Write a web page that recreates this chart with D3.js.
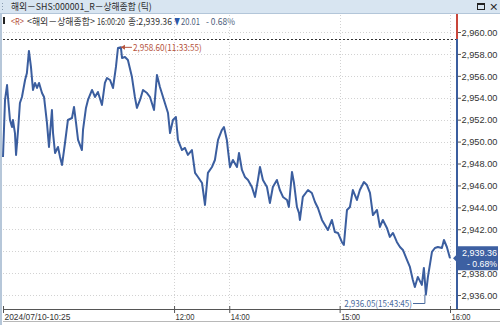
<!DOCTYPE html>
<meta charset="utf-8">
<style>
body { margin: 0; background: #fff; }
svg { display: block; font-family: "Noto Sans CJK KR", "Liberation Sans", sans-serif; }
.grid line { stroke: #d2d2d2; stroke-dasharray: 1,2; shape-rendering: crispEdges; }
.line { fill: none; stroke: #3b5e9f; stroke-width: 2px; stroke-linejoin: round; }
</style>
<body>
<svg width="500" height="325"></svg>
<script src="https://cdn.jsdelivr.net/npm/d3@7"></script>
<script>
// trading minutes since 10:30 (lunch break removed), 10:25 auction = -3
var times = [-3,-1.9,-0.8,-0.3,0.8,1.9,2.4,3.5,4.1,5.2,
  6.2,7.3,9.0,10.0,11.1,12.2,13.3,14.4,15.5,16.6,
  18.2,19.3,20.9,22.0,23.6,24.2,25.3,26.9,28.0,29.1,
  30.7,32.3,34.5,35.6,36.7,37.8,39.9,40.5,42.1,43.2,
  45.4,47.0,48.6,50.8,52.4,53.5,55.2,56.8,58.4,59.5,
  61.1,61.7,63.3,64.9,67.1,68.7,69.8,71.5,73.1,75.3,
  76.9,79.1,80.7,82.3,84.0,85.0,86.7,87.8,89.4,91.0,
  92.1,94.3,95.9,97.5,99.7,101.4,103.0,105.2,106.8,108.4,
  110.6,112.2,113.9,116.0,117.1,118.7,119.3,120.4,122.0,124.2,
  125.3,126.9,128.5,130.2,132.3,134.0,135.6,136.7,138.3,140.5,
  142.1,143.7,145.9,147.5,149.2,151.4,152.4,154.1,155.2,156.8,
  157.9,158.4,160.0,162.8,164.9,166.6,168.2,170.4,172.0,173.6,
  175.8,177.4,179.1,181.2,182.3,184.0,185.6,187.2,189.4,191.0,
  193.2,194.8,196.5,198.1,200.3,201.9,203.5,205.7,207.3,209.0,
  211.1,212.8,214.4,216.6,218.2,219.8,220.9,222.5,224.7,225.8,
  226.9,228.0,230.2,231.8,233.4,235.6,236.7,238.3,240];

var prices = [2948.60,2953.80,2955.16,2954.07,2951.97,2951.33,2951.97,2950.78,2948.78,2951.06,
  2953.52,2954.07,2955.62,2956.26,2958.27,2956.81,2954.71,2955.35,2954.89,2955.35,
  2954.43,2954.07,2951.70,2949.51,2952.88,2950.78,2948.96,2949.51,2948.60,2947.87,
  2949.87,2951.97,2952.15,2953.16,2951.70,2950.15,2949.23,2951.06,2953.07,2953.80,
  2954.71,2954.07,2954.53,2953.34,2955.35,2955.80,2955.62,2954.89,2956.81,2958.54,
  2958.60,2957.63,2957.72,2957.45,2955.89,2954.07,2953.07,2953.80,2954.71,2954.43,
  2954.07,2952.88,2956.08,2954.98,2954.07,2953.52,2952.61,2950.78,2951.97,2952.24,
  2950.15,2949.23,2949.42,2948.78,2949.23,2947.14,2946.77,2946.22,2944.22,2947.14,
  2947.68,2948.32,2950.15,2951.06,2951.33,2950.15,2949.23,2947.68,2948.32,2947.68,
  2948.96,2947.41,2946.77,2946.50,2945.86,2944.95,2946.50,2947.68,2946.50,2945.86,
  2944.40,2945.86,2946.50,2945.58,2944.95,2944.67,2944.03,2947.23,2946.22,2944.03,
  2943.49,2942.85,2944.95,2945.58,2945.31,2944.49,2943.94,2942.85,2942.39,2941.93,
  2942.85,2941.75,2941.66,2940.84,2940.57,2943.76,2944.03,2945.58,2944.67,2945.58,
  2946.31,2946.04,2945.31,2943.30,2943.76,2942.21,2942.85,2942.12,2941.30,2941.66,
  2940.84,2940.38,2940.11,2939.20,2938.56,2937.37,2936.73,2937.65,2936.92,2938.47,
  2936.05,2937.65,2939.93,2940.29,2940.38,2940.29,2941.02,2940.38,2939.36];

var yTicks = [2936,2938,2940,2942,2944,2946,2948,2950,2952,2954,2956,2958,2960];
var xTickTimes = [-3, 90, 120, 180, 240];
var xTickLabels = ["2024/07/10-10:25", "12:00", "14:00", "15:00", "16:00"];
var prevClose = 2959.37;
var lastLabel = ["2,939.36", "- 0.68%"];
var highMark = {t: 61.1, v: 2958.60, label: "2,958.60(11:33:55)"};
var lowMark = {t: 226.9, v: 2936.05, label: "2,936.05(15:43:45)"};
var titleText = "해외－SHS:000001_R－상해종합 (틱)";
var infoParts = ["<R>", "<해외－상해종합>", "16:00:20", "종:2,939.36", "▼", "20.01", "- 0.68%"];

var data = times.map(function(t, i) { return {t: t, v: prices[i]}; });

// squeeze a text horizontally to a given width (keeps its anchor point)
function fit(sel, width) {
  sel.each(function(d, i) {
    var el = d3.select(this),
        w = typeof width === "function" ? width(d, i) : width,
        n = this.getComputedTextLength(),
        tx = +el.attr("x") || 0, ty = +el.attr("y") || 0;
    el.attr("x", 0).attr("y", 0)
      .attr("transform", "translate(" + tx + "," + ty + ") scale(" + (w / n) + ",1)");
  });
}

var svg = d3.select("svg");
var x = d3.scaleLinear().domain([-3, 240]).range([3, 450]),
    y = d3.scaleLinear().domain([2936, 2960]).range([295, 32]);
var axisX = 457, bottom = 309;

// title bar
svg.append("rect").attr("x", 0).attr("y", 0).attr("width", 500).attr("height", 13).attr("fill", "#d8e5f1");
svg.append("line").attr("x1", 0).attr("x2", 500).attr("y1", 13.5).attr("y2", 13.5).attr("stroke", "#b3c6d9");
[3, 6, 9].forEach(function(d) {
  svg.append("rect").attr("x", 2).attr("y", d).attr("width", 1).attr("height", 1).attr("fill", "#8a9cb0");
});
svg.append("text").attr("x", 11).attr("y", 10).attr("font-size", "9.5px").attr("fill", "#2a2a2a")
  .text(titleText).call(fit, 141);
svg.append("rect").attr("x", 477.5).attr("y", 3.5).attr("width", 7).attr("height", 6)
  .attr("fill", "none").attr("stroke", "#222");
svg.append("line").attr("x1", 477.5).attr("x2", 484.5).attr("y1", 4.5).attr("y2", 4.5).attr("stroke", "#222");
svg.append("text").attr("x", 489).attr("y", 10).attr("font-size", "9.5px").attr("font-weight", "bold")
  .attr("fill", "#222").text("×");

// left border
svg.append("line").attr("x1", 1).attr("x2", 1).attr("y1", 14).attr("y2", 325)
  .attr("stroke", "#b6c7d9").attr("stroke-width", 2);

// info line, one text per part
svg.append("rect").attr("x", 3).attr("y", 17).attr("width", 2).attr("height", 7).attr("fill", "#222");
var infoX = [11, 27, 97, 128, 174, 181, 206],
    infoW = [13, 68, 28, 44, 6, 19, 29],
    infoC = ["#b5503a", "#333", "#333", "#333", "#2d58a8", "#4d5d7a", "#4d5d7a"];
svg.selectAll(".info").data(infoParts).enter().append("text")
  .attr("class", "info")
  .attr("x", function(d, i) { return infoX[i]; }).attr("y", 24.5)
  .attr("font-size", "9.5px").attr("fill", function(d, i) { return infoC[i]; })
  .text(function(d) { return d; })
  .call(fit, function(d, i) { return infoW[i]; });

// grid
var grid = svg.append("g").attr("class", "grid");
grid.selectAll(".h").data(yTicks).enter().append("line")
  .attr("x1", 3).attr("x2", axisX - 1)
  .attr("y1", function(d) { return Math.round(y(d)) + 0.5; })
  .attr("y2", function(d) { return Math.round(y(d)) + 0.5; });
grid.selectAll(".v").data(xTickTimes.slice(1)).enter().append("line")
  .attr("x1", function(d) { return Math.round(x(d)) + 0.5; })
  .attr("x2", function(d) { return Math.round(x(d)) + 0.5; })
  .attr("y1", 15).attr("y2", bottom);

// previous close
svg.append("line").attr("x1", 3).attr("x2", axisX - 1)
  .attr("y1", Math.round(y(prevClose)) + 0.5).attr("y2", Math.round(y(prevClose)) + 0.5)
  .attr("stroke", "#333").attr("stroke-dasharray", "2,2");

// price line
var line = d3.line().x(function(d) { return x(d.t); }).y(function(d) { return y(d.v); });
svg.append("path").datum(data).attr("class", "line").attr("d", line);

// high annotation
var hx = x(highMark.t), hy = y(highMark.v);
svg.append("line").attr("x1", hx).attr("x2", hx + 11).attr("y1", hy).attr("y2", hy).attr("stroke", "#b5533c");
svg.append("path").attr("d", "M" + hx + "," + hy + "l4,-2.5v5z").attr("fill", "#b5533c");
svg.append("text").attr("x", hx + 12).attr("y", hy + 3.5).attr("font-size", "9px").attr("fill", "#b5533c")
  .text(highMark.label).call(fit, 69);

// low annotation
var lx = x(lowMark.t) - 1, ly = y(lowMark.v);
svg.append("path").attr("d", "M" + lx + "," + ly + "V303.5H413").attr("fill", "none").attr("stroke", "#4a6a9d");
svg.append("text").attr("x", 412).attr("y", 306.5).attr("text-anchor", "end").attr("font-size", "9px")
  .attr("fill", "#4a6a9d").text(lowMark.label).call(fit, 68);

// y axis bar
svg.append("line").attr("x1", axisX).attr("x2", axisX).attr("y1", 14).attr("y2", y(prevClose))
  .attr("stroke", "#c8453a").attr("stroke-width", 2);
svg.append("line").attr("x1", axisX).attr("x2", axisX).attr("y1", y(prevClose)).attr("y2", bottom)
  .attr("stroke", "#3b5e9f").attr("stroke-width", 2);

var yAxis = svg.append("g").attr("transform", "translate(" + (axisX + 1) + ",0)")
  .call(d3.axisRight(y).tickValues(yTicks).tickSize(3).tickFormat(d3.format(",.2f")));
yAxis.select(".domain").remove();
yAxis.selectAll(".tick line").attr("stroke", "#555");
yAxis.selectAll(".tick text").attr("x", 3.5).attr("dy", "0.34em").attr("fill", "#333")
  .style("font-size", "9.5px").style("font-family", "'Liberation Sans', sans-serif")
  .call(fit, 36);

// last value tag
var ty = y(prices[prices.length - 1]);
svg.append("path")
  .attr("d", "M453," + ty + "L458," + (ty - 5) + "V" + (ty - 12) + "H498V" + (ty + 12) + "H458V" + (ty + 5) + "Z")
  .attr("fill", "#3d60a2");
svg.append("text").attr("x", 497).attr("y", ty - 2).attr("text-anchor", "end").attr("font-size", "9.5px")
  .attr("fill", "#fff").style("font-family", "'Liberation Sans', sans-serif").text(lastLabel[0]).call(fit, 35);
svg.append("text").attr("x", 497).attr("y", ty + 9).attr("text-anchor", "end").attr("font-size", "9.5px")
  .attr("fill", "#fff").style("font-family", "'Liberation Sans', sans-serif").text(lastLabel[1]).call(fit, 30);

// x axis band
svg.append("line").attr("x1", 3).attr("x2", 500).attr("y1", bottom + 0.5).attr("y2", bottom + 0.5).attr("stroke", "#555");
svg.append("line").attr("x1", 3).attr("x2", 500).attr("y1", 321.5).attr("y2", 321.5).attr("stroke", "#b8b8b8");
var xAxis = svg.append("g").attr("transform", "translate(0," + bottom + ")")
  .call(d3.axisBottom(x).tickValues(xTickTimes).tickSize(4)
    .tickFormat(function(d, i) { return xTickLabels[i]; }));
xAxis.select(".domain").remove();
xAxis.selectAll(".tick line").attr("y1", -3).attr("y2", 4).attr("stroke", "#555");
xAxis.selectAll(".tick text").attr("text-anchor", "start").attr("x", 1).attr("y", 4).attr("dy", "0.71em")
  .attr("fill", "#333").style("font-size", "9.5px").style("font-family", "'Liberation Sans', sans-serif")
  .call(fit, function(d, i) { return i === 0 ? 66 : 19; });
</script>
</body>
